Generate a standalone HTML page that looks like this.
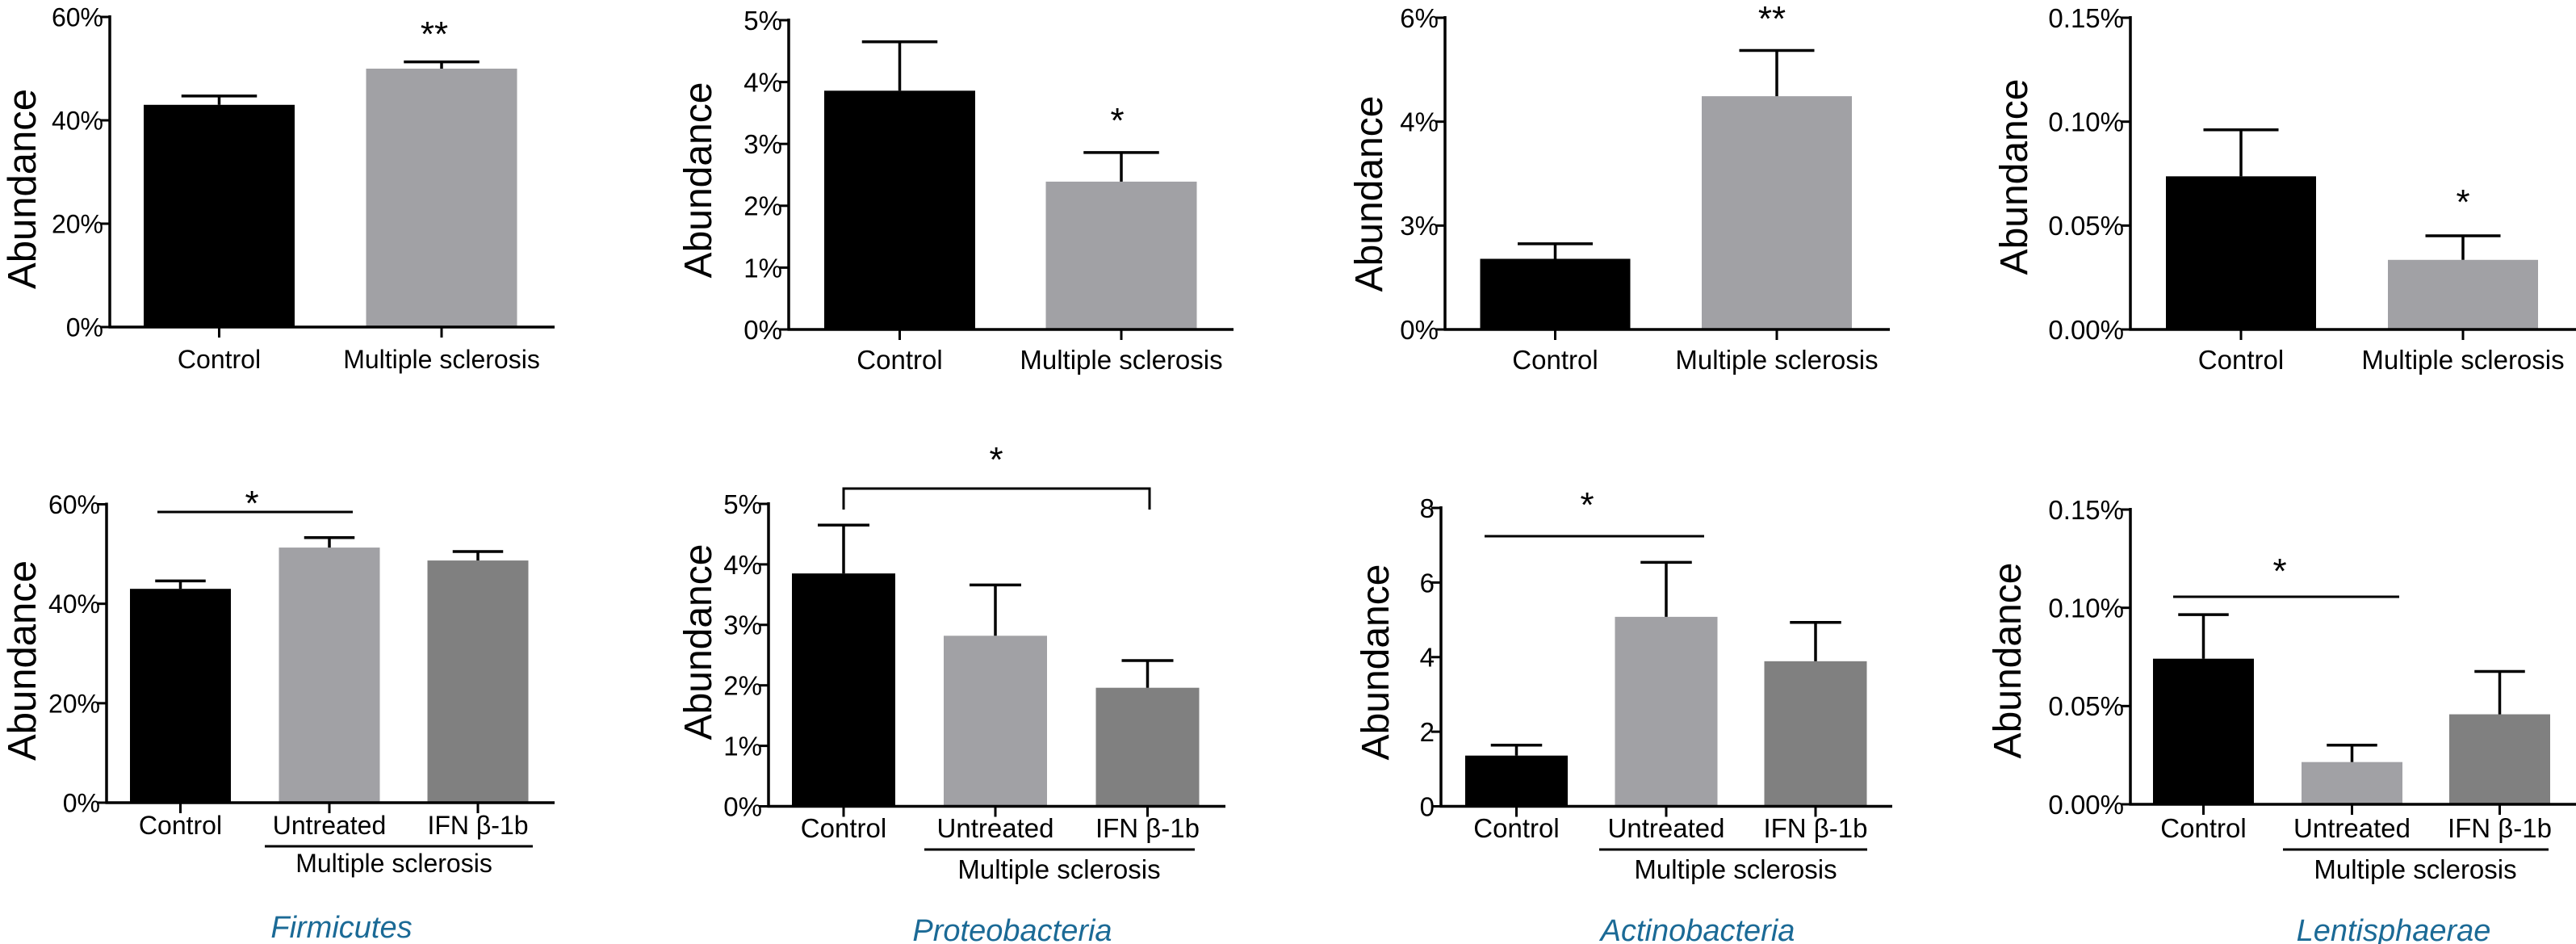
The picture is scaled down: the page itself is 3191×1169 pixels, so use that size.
<!DOCTYPE html>
<html><head><meta charset="utf-8"><style>
html,body{margin:0;padding:0;background:#fff;}
svg{display:block;}
text{font-family:"Liberation Sans",sans-serif;fill:#000;}
</style></head><body>
<svg id="fig" width="3191" height="1169" viewBox="0 0 3191 1169" xmlns="http://www.w3.org/2000/svg"></svg>
<script>
// ---- data ----
const cats2 = ["Control", "Multiple sclerosis"];
const cats3 = ["Control", "Untreated", "IFN β-1b"];
const firmTopMeans = [43.0, 50.0];
const firmTopUpper = [44.7, 51.3];
const firmBotMeans = [43.0, 51.3, 48.7];
const firmBotUpper = [44.6, 53.3, 50.5];
const proTopMeans = [3.86, 2.39];
const proTopUpper = [4.65, 2.86];
const proBotMeans = [3.85, 2.82, 1.96];
const proBotUpper = [4.65, 3.66, 2.41];
const actTopMeans = [1.36, 4.49];
const actTopUpper = [1.65, 5.37];
const actBotMeans = [1.36, 5.08, 3.89];
const actBotUpper = [1.64, 6.54, 4.93];
const lenTopMeans = [0.0737, 0.0335];
const lenTopUpper = [0.0961, 0.0451];
const lenBotMeans = [0.0741, 0.0215, 0.0458];
const lenBotUpper = [0.0965, 0.0301, 0.0676];
const firmTicks = [0, 20, 40, 60];
const firmTickLabels = ["0%", "20%", "40%", "60%"];
const proTicks = [0, 1, 2, 3, 4, 5];
const proTickLabels = ["0%", "1%", "2%", "3%", "4%", "5%"];
const actTopTicks = [0, 2, 4, 6];
const actTopTickLabels = ["0%", "3%", "4%", "6%"];
const actBotTicks = [0, 2, 4, 6, 8];
const actBotTickLabels = ["0", "2", "4", "6", "8"];
const lenTicks = [0, 0.05, 0.10, 0.15];
const lenTickLabels = ["0.00%", "0.05%", "0.10%", "0.15%"];
const titles = ["Firmicutes", "Proteobacteria", "Actinobacteria", "Lentisphaerae"];

const NS = "http://www.w3.org/2000/svg";
const svg = document.getElementById("fig");
const colors = ["#000000", "#a1a1a5", "#808080"];

function mk(tag, attrs, parent) {
  const e = document.createElementNS(NS, tag);
  for (const k in attrs) e.setAttribute(k, attrs[k]);
  (parent || svg).appendChild(e);
  return e;
}
function txt(x, y, s, size, anchor, parent, extra) {
  const t = mk("text", Object.assign({x: x, y: y, "font-size": size, "text-anchor": anchor || "middle"}, extra || {}), parent);
  t.textContent = s;
  return t;
}

function panel(cfg) {
  const g = mk("g", {});
  
  
  const yS = v => cfg.zero - (v / cfg.max) * (cfg.zero - cfg.top);
  const fs = cfg.fs;
  const ya = mk("line", {x1: cfg.x0, y1: cfg.top - 2, x2: cfg.x0, y2: cfg.zero + 1.5, stroke: "#000", "stroke-width": 3.5}, g);
  
  
  cfg.ticks.forEach((v, i) => {
    const y = yS(v);
    const tk = mk("line", {x1: cfg.x0 - 12, y1: y, x2: cfg.x0, y2: y, stroke: "#000", "stroke-width": 3}, g);
    
    
    const tl = txt(cfg.x0 - 8, y + fs * 0.36, cfg.tickLabels[i], fs, "end", g);
    
    
  });
  cfg.means.forEach((m, i) => {
    const cx = cfg.centers[i];
    const yt = yS(m), yu = yS(cfg.upper[i]);
    const r = mk("rect", {x: cx - cfg.bw / 2, y: yt, width: cfg.bw, height: cfg.zero - yt, fill: colors[i]}, g);
    
    
    const ev = mk("line", {x1: cx, y1: yt, x2: cx, y2: yu, stroke: "#000", "stroke-width": 3.5}, g);
    
    
    const ec = mk("line", {x1: cx - cfg.bw / 4, y1: yu, x2: cx + cfg.bw / 4, y2: yu, stroke: "#000", "stroke-width": 3.5}, g);
    
    
    const xt = mk("line", {x1: cx, y1: cfg.zero, x2: cx, y2: cfg.zero + 13, stroke: "#000", "stroke-width": 3}, g);
    
    
    const xl = txt(cx, cfg.labY, cfg.cats[i], fs, "middle", g);
    
    
  });
  const xa = mk("line", {x1: cfg.x0 - 1.5, y1: cfg.zero, x2: cfg.x1, y2: cfg.zero, stroke: "#000", "stroke-width": 3.5}, g);
  
  
  const yt = txt(0, 0, "Abundance", cfg.yfs, "middle", g, {transform: "translate(" + (cfg.ytx + cfg.yfs * 0.73) + "," + cfg.yty + ") rotate(-90)"});
  
  
  if (cfg.sig) {
    const s = cfg.sig;
    if (s.line) {
      const sl = mk("path", {d: s.bracket ? `M${s.line[0]},${s.line[3]} V${s.line[2]} H${s.line[1]} V${s.line[3]}` : `M${s.line[0]},${s.line[2]} H${s.line[1]}`, stroke: "#000", "stroke-width": 3, fill: "none"}, g);
      
      
    }
    const st = txt(s.x, s.y + 22, s.mark, 44, "middle", g);
    
    
  }
  if (cfg.group) {
    const gr = cfg.group;
    const gl = mk("line", {x1: gr.x1, y1: gr.y, x2: gr.x2, y2: gr.y, stroke: "#000", "stroke-width": 3}, g);
    
    
    const gt = txt(gr.tx, gr.ty, "Multiple sclerosis", fs, "middle", g);
    
    
  }
  if (cfg.title) {
    const tt = txt(cfg.title.x, cfg.title.y, cfg.title.s, 38, "middle", g, {"font-style": "italic", style: "fill:#1b6a96"});
    
    
  }
}

panel({name: "firmicutes-two-group-chart", x0: 136, x1: 687, top: 21, zero: 405, max: 60, ticks: firmTicks, tickLabels: firmTickLabels,
  means: firmTopMeans, upper: firmTopUpper, cats: cats2, centers: [271.5, 547], bw: 187, fs: 32, labY: 456, yfs: 49, ytx: 8, yty: 234,
  sig: {mark: "**", x: 538, y: 35}});
panel({name: "firmicutes-three-group-chart", x0: 132, x1: 687, top: 624.5, zero: 994, max: 60, ticks: firmTicks, tickLabels: firmTickLabels,
  means: firmBotMeans, upper: firmBotUpper, cats: cats3, centers: [223.5, 408, 592], bw: 125, fs: 32, labY: 1033, yfs: 49, ytx: 8, yty: 818,
  sig: {mark: "*", x: 312, y: 616, line: [195, 437, 634]},
  group: {x1: 328, x2: 660, y: 1048, tx: 488, ty: 1080}, title: {x: 423, y: 1161, s: titles[0]}});
panel({name: "proteobacteria-two-group-chart", x0: 977, x1: 1528, top: 25, zero: 408, max: 5, ticks: proTicks, tickLabels: proTickLabels,
  means: proTopMeans, upper: proTopUpper, cats: cats2, centers: [1114.5, 1389], bw: 187, fs: 33, labY: 457, yfs: 48, ytx: 846, yty: 223,
  sig: {mark: "*", x: 1384, y: 142}});
panel({name: "proteobacteria-three-group-chart", x0: 952, x1: 1518, top: 624, zero: 998.5, max: 5, ticks: proTicks, tickLabels: proTickLabels,
  means: proBotMeans, upper: proBotUpper, cats: cats3, centers: [1045, 1233, 1421.5], bw: 128, fs: 33, labY: 1037, yfs: 48, ytx: 846, yty: 795,
  sig: {mark: "*", x: 1234, y: 562, line: [1045, 1424, 605, 631], bracket: true},
  group: {x1: 1145, x2: 1480, y: 1052, tx: 1312, ty: 1088}, title: {x: 1254, y: 1165, s: titles[1]}});
panel({name: "actinobacteria-two-group-chart", x0: 1790, x1: 2341, top: 22, zero: 408, max: 6, ticks: actTopTicks, tickLabels: actTopTickLabels,
  means: actTopMeans, upper: actTopUpper, cats: cats2, centers: [1926.5, 2201], bw: 186, fs: 33, labY: 457, yfs: 48, ytx: 1677, yty: 240,
  sig: {mark: "**", x: 2195, y: 16}});
panel({name: "actinobacteria-three-group-chart", x0: 1785, x1: 2344, top: 629, zero: 998.5, max: 8, ticks: actBotTicks, tickLabels: actBotTickLabels,
  means: actBotMeans, upper: actBotUpper, cats: cats3, centers: [1878.5, 2064, 2249], bw: 127, fs: 33, labY: 1037, yfs: 48, ytx: 1685, yty: 820,
  sig: {mark: "*", x: 1966, y: 618, line: [1839, 2111, 664]},
  group: {x1: 1981, x2: 2313, y: 1052, tx: 2150, ty: 1088}, title: {x: 2103, y: 1165, s: titles[2]}});
panel({name: "lentisphaerae-two-group-chart", x0: 2639, x1: 3191, top: 22, zero: 408, max: 0.15, ticks: lenTicks, tickLabels: lenTickLabels,
  means: lenTopMeans, upper: lenTopUpper, cats: cats2, centers: [2776, 3051], bw: 186, fs: 33, labY: 457, yfs: 48, ytx: 2476, yty: 219,
  sig: {mark: "*", x: 3051, y: 243}});
panel({name: "lentisphaerae-three-group-chart", x0: 2639, x1: 3191, top: 631, zero: 996, max: 0.15, ticks: lenTicks, tickLabels: lenTickLabels,
  means: lenBotMeans, upper: lenBotUpper, cats: cats3, centers: [2729.5, 2913.5, 3096.5], bw: 125, fs: 33, labY: 1037, yfs: 48, ytx: 2468, yty: 818,
  sig: {mark: "*", x: 2824, y: 700, line: [2692, 2972, 739]},
  group: {x1: 2828, x2: 3157, y: 1052, tx: 2992, ty: 1088}, title: {x: 2965, y: 1165, s: titles[3]}});
</script>
</body></html>
